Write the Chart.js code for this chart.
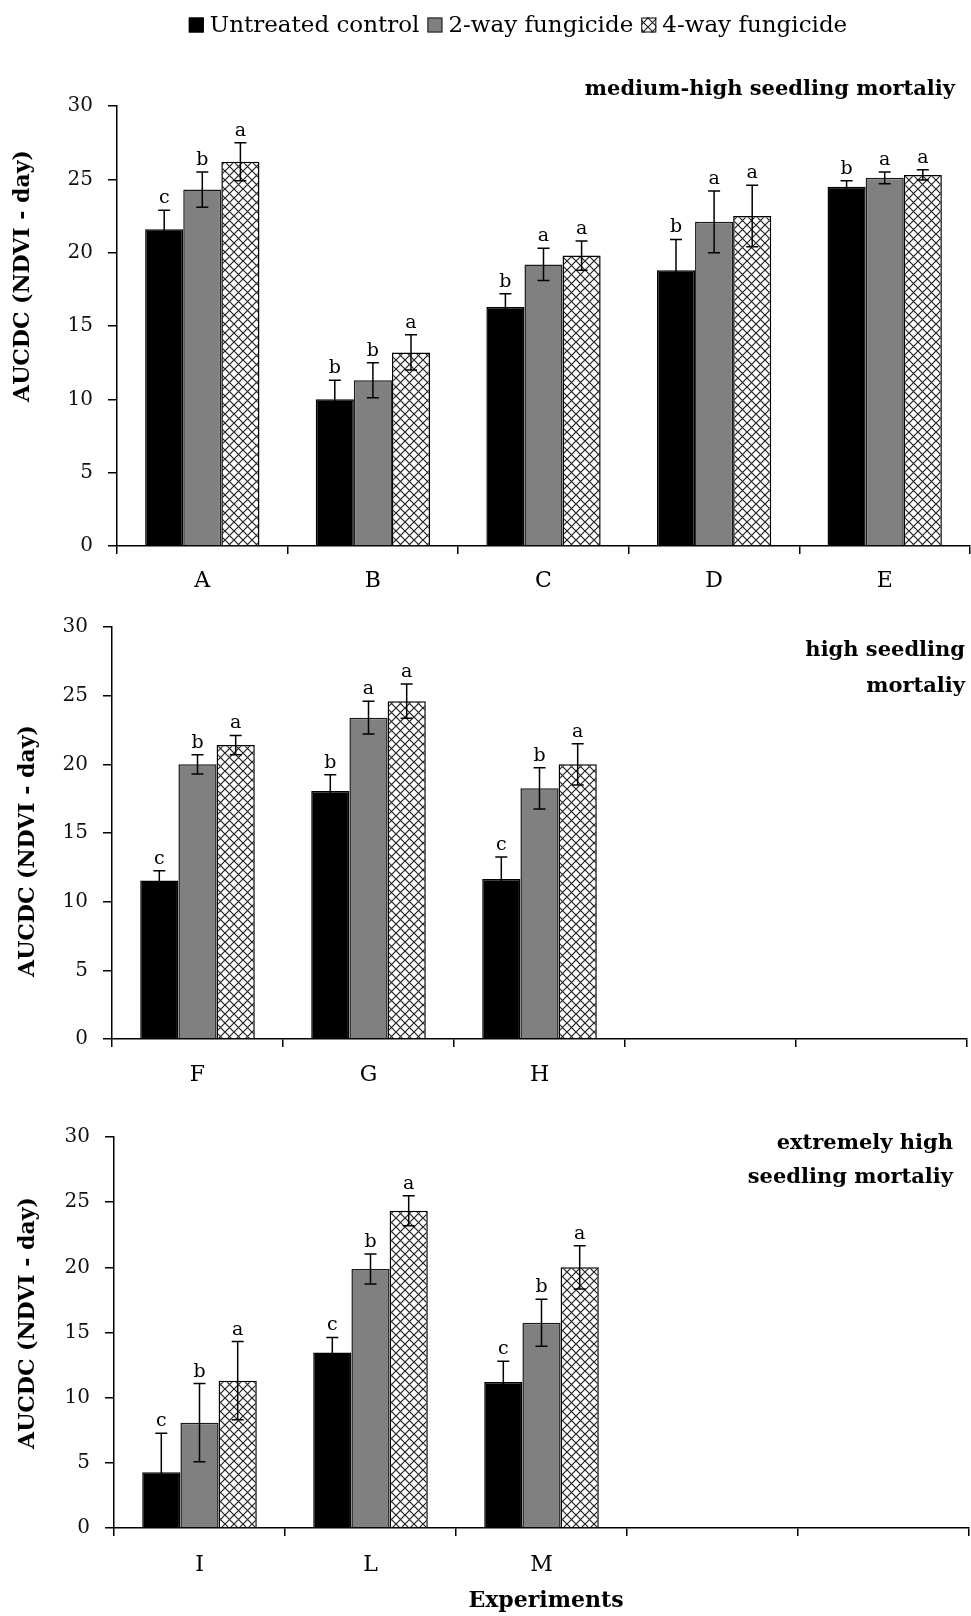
<!DOCTYPE html>
<html>
<head>
<meta charset="utf-8">
<script src="https://cdn.jsdelivr.net/npm/chart.js@4.4.1/dist/chart.umd.min.js"></script>
<style>
  body { margin: 0; background: #fff; }
  #wrap { position: relative; width: 971px; height: 1616px; }
  #wrap canvas { position: absolute; left: 0; }
</style>
</head>
<body>
<div id="wrap">
  <canvas id="p1" width="971" height="600" style="top:0"></canvas>
  <canvas id="p2" width="971" height="510" style="top:600px"></canvas>
  <canvas id="p3" width="971" height="506" style="top:1110px"></canvas>
</div>
<script>
const seriesNames = ["Untreated control", "2-way fungicide", "4-way fungicide"];
const yTicks = [0, 5, 10, 15, 20, 25, 30];

// medium-high seedling mortality
const expTop = ["A", "B", "C", "D", "E"];
const controlTop = [21.6, 10.0, 16.3, 18.8, 24.5];
const twoWayTop = [24.3, 11.3, 19.2, 22.1, 25.1];
const fourWayTop = [26.2, 13.2, 19.8, 22.5, 25.3];
const controlTopErr = [1.3, 1.3, 0.9, 2.1, 0.4];
const twoWayTopErr = [1.2, 1.2, 1.1, 2.1, 0.4];
const fourWayTopErr = [1.3, 1.2, 1.0, 2.1, 0.35];
const controlTopLetters = ["c", "b", "b", "b", "b"];
const twoWayTopLetters = ["b", "b", "a", "a", "a"];
const fourWayTopLetters = ["a", "a", "a", "a", "a"];

// high seedling mortality
const expMid = ["F", "G", "H", "", ""];
const controlMid = [11.55, 18.05, 11.65, null, null];
const twoWayMid = [20.0, 23.4, 18.25, null, null];
const fourWayMid = [21.4, 24.6, 20.0, null, null];
const controlMidErr = [0.7, 1.2, 1.6];
const twoWayMidErr = [0.7, 1.2, 1.5];
const fourWayMidErr = [0.7, 1.25, 1.5];
const controlMidLetters = ["c", "b", "c"];
const twoWayMidLetters = ["b", "a", "b"];
const fourWayMidLetters = ["a", "a", "a"];

// extremely high seedling mortality
const expLow = ["I", "L", "M", "", ""];
const controlLow = [4.27, 13.47, 11.2, null, null];
const twoWayLow = [8.08, 19.88, 15.75, null, null];
const fourWayLow = [11.3, 24.35, 20.0, null, null];
const controlLowErr = [3.0, 1.15, 1.6];
const twoWayLowErr = [3.0, 1.15, 1.8];
const fourWayLowErr = [3.0, 1.15, 1.66];
const controlLowLetters = ["c", "c", "c"];
const twoWayLowLetters = ["b", "b", "b"];
const fourWayLowLetters = ["a", "a", "a"];

const SERIF = "'DejaVu Serif', serif";

// crosshatch fill for the 4-way fungicide bars
function makeHatch() {
    const n = 9;
    const tile = document.createElement("canvas");
    tile.width = n;
    tile.height = n;
    const g = tile.getContext("2d");
    g.fillStyle = "#fff";
    g.fillRect(0, 0, n, n);
    g.strokeStyle = "#222";
    g.lineWidth = 1.2;
    g.beginPath();
    g.moveTo(0, 0); g.lineTo(n, n);
    g.moveTo(n, 0); g.lineTo(0, n);
    g.stroke();
    return g.createPattern(tile, "repeat");
}
const hatch = makeHatch();
const fills = ["#000", "#808080", hatch];
const edges = ["#000", "#1a1a1a", "#000"];

function marksPlugin(p) {
    return {
        id: "marks",
        afterDatasetsDraw(chart) {
            const ctx = chart.ctx;
            const y = chart.scales.y;
            ctx.save();
            // error bars + significance letters
            p.errors.forEach((errs, i) => {
                chart.getDatasetMeta(i).data.forEach((bar, j) => {
                    const v = chart.data.datasets[i].data[j];
                    if (v == null) return;
                    const hi = y.getPixelForValue(v + errs[j]);
                    const lo = y.getPixelForValue(v - errs[j]);
                    ctx.strokeStyle = "#000";
                    ctx.lineWidth = 1.5;
                    ctx.beginPath();
                    ctx.moveTo(bar.x, lo); ctx.lineTo(bar.x, hi);
                    ctx.moveTo(bar.x - 6, hi); ctx.lineTo(bar.x + 6, hi);
                    ctx.moveTo(bar.x - 6, lo); ctx.lineTo(bar.x + 6, lo);
                    ctx.stroke();
                    ctx.fillStyle = "#000";
                    ctx.font = "19px " + SERIF;
                    ctx.textAlign = "center";
                    ctx.textBaseline = "alphabetic";
                    ctx.fillText(p.letters[i][j], bar.x, hi - 7);
                });
            });
            // panel title, right aligned
            ctx.fillStyle = "#000";
            ctx.font = "bold 21px " + SERIF;
            ctx.textAlign = "right";
            ctx.textBaseline = "alphabetic";
            p.title.forEach((line, k) => ctx.fillText(line, p.titleRight, p.titleBase[k]));
            // y axis title
            ctx.save();
            ctx.translate(p.yTitle[0], p.yTitle[1]);
            ctx.rotate(-Math.PI / 2);
            ctx.textAlign = "center";
            ctx.textBaseline = "middle";
            ctx.font = "bold 22px " + SERIF;
            ctx.fillText("AUCDC (NDVI - day)", 0, 0);
            ctx.restore();
            if (p.xTitle) {
                ctx.textAlign = "center";
                ctx.textBaseline = "middle";
                ctx.font = "bold 22px " + SERIF;
                ctx.fillText("Experiments", p.xTitle[0], p.xTitle[1]);
            }
            if (p.legend) drawLegend(ctx, p.legend[0], p.legend[1]);
            ctx.restore();
        }
    };
}

function drawLegend(ctx, cx, cy) {
    ctx.font = "23px " + SERIF;
    const box = 15, gapIn = 6, gapOut = 8;
    const widths = seriesNames.map((s) => ctx.measureText(s).width);
    const total = widths.reduce((a, w) => a + box + gapIn + w, 0) + gapOut * 2;
    let x = cx - total / 2;
    ctx.textAlign = "left";
    ctx.textBaseline = "middle";
    seriesNames.forEach((name, i) => {
        ctx.fillStyle = fills[i];
        ctx.fillRect(x, cy - box / 2, box, box);
        ctx.strokeStyle = edges[i];
        ctx.lineWidth = 1;
        ctx.strokeRect(x + 0.5, cy - box / 2 + 0.5, box - 1, box - 1);
        ctx.fillStyle = "#000";
        ctx.fillText(name, x + box + gapIn, cy + 1);
        x += box + gapIn + widths[i] + gapOut;
    });
}

function makePanel(id, cats, values, p) {
    new Chart(document.getElementById(id).getContext("2d"), {
        type: "bar",
        data: {
            labels: cats,
            datasets: values.map((vals, i) => ({
                label: seriesNames[i],
                data: vals,
                backgroundColor: fills[i],
                borderColor: edges[i],
                borderWidth: 1.5,
                categoryPercentage: 0.67,
                barPercentage: 1.0,
            })),
        },
        options: {
            responsive: false,
            animation: false,
            layout: { padding: { top: p.top, right: p.right, left: 0, bottom: 0 } },
            plugins: { legend: { display: false }, tooltip: { enabled: false } },
            scales: {
                x: {
                    grid: { drawOnChartArea: false, drawTicks: true, tickLength: 8, color: "#000", lineWidth: 1.5, offset: true },
                    border: { display: true, color: "#000", width: 1.5 },
                    ticks: { color: "#000", font: { family: SERIF, size: 22 }, padding: p.xPad, autoSkip: false, maxRotation: 0 },
                    afterFit: (s) => { s.height = p.xAxisHeight; },
                },
                y: {
                    min: 0,
                    max: 30,
                    afterBuildTicks: (s) => { s.ticks = yTicks.map((v) => ({ value: v })); },
                    grid: { drawOnChartArea: false, drawTicks: true, tickLength: 9, color: "#000", lineWidth: 1.5 },
                    border: { display: true, color: "#000", width: 1.5 },
                    ticks: { color: "#111", font: { family: SERIF, size: 20 }, padding: 15 },
                    afterFit: (s) => { s.width = p.left; },
                },
            },
        },
        plugins: [marksPlugin(p)],
    });
}

makePanel("p1", expTop, [controlTop, twoWayTop, fourWayTop], {
    top: 106, left: 117, right: 1, xAxisHeight: 54, xPad: 14,
    errors: [controlTopErr, twoWayTopErr, fourWayTopErr],
    letters: [controlTopLetters, twoWayTopLetters, fourWayTopLetters],
    title: ["medium-high seedling mortaliy"], titleRight: 955, titleBase: [95],
    yTitle: [23, 276],
    legend: [518, 25],
});

makePanel("p2", expMid, [controlMid, twoWayMid, fourWayMid], {
    top: 24, left: 112, right: 4, xAxisHeight: 71, xPad: 15,
    errors: [controlMidErr, twoWayMidErr, fourWayMidErr],
    letters: [controlMidLetters, twoWayMidLetters, fourWayMidLetters],
    title: ["high seedling", "mortaliy"], titleRight: 965, titleBase: [56, 92],
    yTitle: [28, 251],
});

makePanel("p3", expLow, [controlLow, twoWayLow, fourWayLow], {
    top: 14, left: 114, right: 2, xAxisHeight: 88, xPad: 16,
    errors: [controlLowErr, twoWayLowErr, fourWayLowErr],
    letters: [controlLowLetters, twoWayLowLetters, fourWayLowLetters],
    title: ["extremely high", "seedling mortaliy"], titleRight: 953, titleBase: [39, 73],
    yTitle: [28, 213],
    xTitle: [546, 491],
});
</script>
</body>
</html>
